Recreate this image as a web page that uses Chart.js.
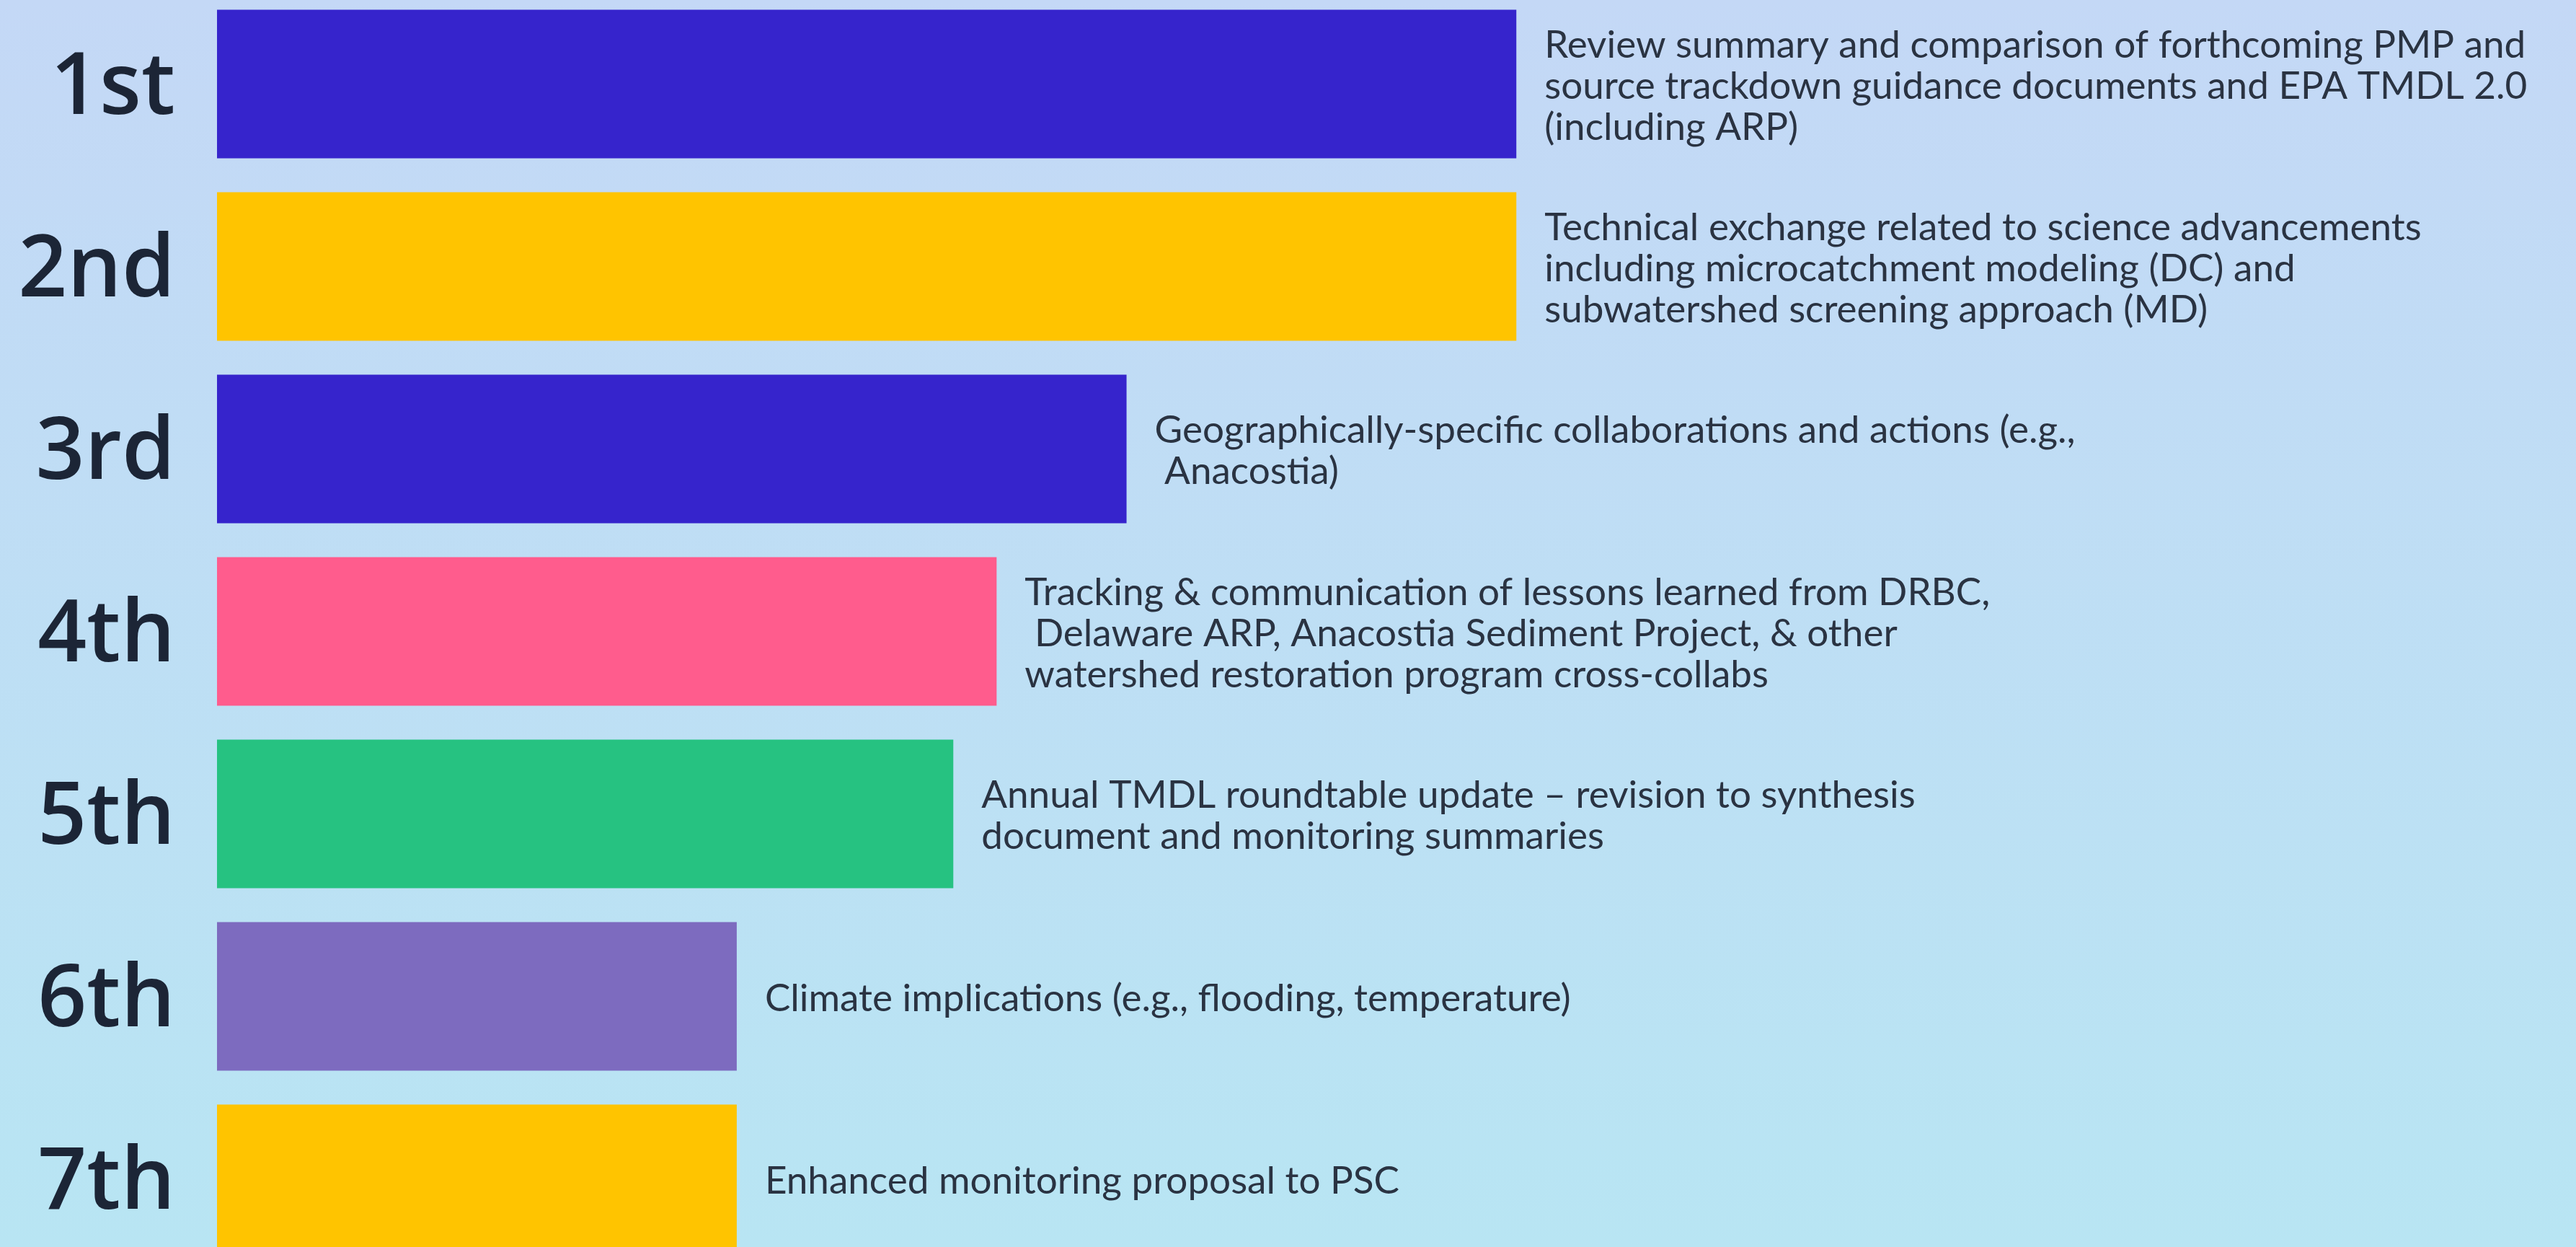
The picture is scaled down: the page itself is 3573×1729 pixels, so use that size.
<!DOCTYPE html>
<html>
<head>
<meta charset="utf-8">
<script src="https://cdn.jsdelivr.net/npm/chart.js@4.4.0/dist/chart.umd.min.js"></script>
<style>
  html, body {
    margin: 0;
    padding: 0;
    width: 3573px;
    height: 1729px;
    overflow: hidden;
    background: linear-gradient(to bottom, #c4d8f6 0%, #b8e5f3 100%);
  }
  #rankChart {
    position: absolute;
    left: 0;
    top: -10px;
  }
</style>
</head>
<body>
<canvas id="rankChart" width="3573" height="1771"></canvas>
<script>
const ranks = ['1st', '2nd', '3rd', '4th', '5th', '6th', '7th'];
const scores = [30, 30, 21, 18, 17, 12, 12];
const barColors = ['#3624cc', '#ffc400', '#3624cc', '#ff5c8d', '#26c281', '#7d6bbf', '#ffc400'];
const topics = [
    ['Review summary and comparison of forthcoming PMP and', 'source trackdown guidance documents and EPA TMDL 2.0', '(including ARP)'],
    ['Technical exchange related to science advancements', 'including microcatchment modeling (DC) and', 'subwatershed screening approach (MD)'],
    ['Geographically-specific collaborations and actions (e.g.,', ' Anacostia)'],
    ['Tracking & communication of lessons learned from DRBC,', ' Delaware ARP, Anacostia Sediment Project, & other', 'watershed restoration program cross-collabs'],
    ['Annual TMDL roundtable update \u2013 revision to synthesis', 'document and monitoring summaries'],
    ['Climate implications (e.g., flooding, temperature)'],
    ['Enhanced monitoring proposal to PSC']
];

// writes the topic text to the right of each bar
const topicLabels = {
    id: 'topicLabels',
    afterDatasetsDraw(chart) {
        const ctx = chart.ctx;
        const meta = chart.getDatasetMeta(0);
        ctx.save();
        ctx.font = '53px Lato';
        ctx.fillStyle = '#2a3342';
        ctx.textAlign = 'left';
        ctx.textBaseline = 'alphabetic';
        meta.data.forEach((bar, i) => {
            const lines = topics[i];
            const lineH = 57;
            lines.forEach((line, j) => {
                const y = bar.y + (j - (lines.length - 1) / 2) * lineH + 20;
                ctx.fillText(line, bar.x + 39, y);
            });
        });
        ctx.restore();
    }
};

const ctx = document.getElementById('rankChart').getContext('2d');
const rankChart = new Chart(ctx, {
    type: 'bar',
    data: {
        labels: ranks,
        datasets: [{
            data: scores,
            backgroundColor: barColors,
            borderWidth: 0,
            barPercentage: 1,
            categoryPercentage: 0.814
        }]
    },
    options: {
        indexAxis: 'y',
        responsive: false,
        animation: false,
        devicePixelRatio: 1,
        layout: { padding: { left: 0, right: 28, top: 0, bottom: 0 } },
        plugins: {
            legend: { display: false },
            tooltip: { enabled: false }
        },
        scales: {
            x: {
                display: false,
                min: 0,
                max: 54
            },
            y: {
                grid: { display: false, drawTicks: false },
                border: { display: false },
                ticks: {
                    padding: 58,
                    labelOffset: 8,
                    color: '#1c2536',
                    font: { family: 'Open Sans', size: 119, weight: '600' }
                },
                afterFit(scale) {
                    scale.width = 301; // bars start at x=301
                    scale.paddingTop = 0;
                    scale.paddingBottom = 0;
                }
            }
        }
    },
    plugins: [topicLabels]
});
</script>
</body>
</html>
